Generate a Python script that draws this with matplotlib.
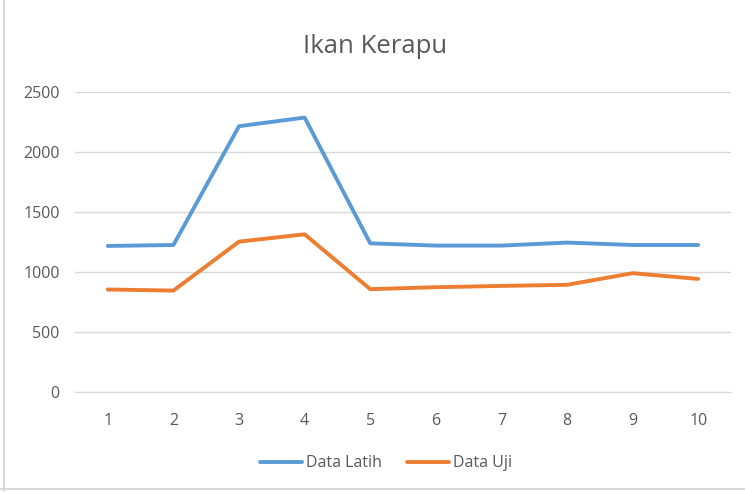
import matplotlib.pyplot as plt
from matplotlib.lines import Line2D

categories = [1, 2, 3, 4, 5, 6, 7, 8, 9, 10]
data_latih = [1217, 1225, 2215, 2287, 1239, 1220, 1220, 1245, 1225, 1225]
data_uji = [854, 845, 1253, 1314, 857, 873, 884, 893, 990, 942]
y_ticks = [0, 500, 1000, 1500, 2000, 2500]

blue = "#5b9bd5"
orange = "#ed7d31"
text_color = "#595959"
grid_color = "#d9d9d9"


def main():
    plt.rcParams["font.family"] = ["Open Sans", "DejaVu Sans"]
    fig = plt.figure(figsize=(7.45, 4.92), dpi=100)
    ax = fig.add_axes([0.1007, 0.2033, 0.8805, 0.6097])

    ax.plot(categories, data_latih, color=blue, linewidth=2.8,
            solid_capstyle="round", label="Data Latih")
    ax.plot(categories, data_uji, color=orange, linewidth=2.8,
            solid_capstyle="round", label="Data Uji")

    ax.set_xlim(0.5, 10.5)
    ax.set_ylim(0, 2500)
    ax.set_yticks(y_ticks)
    ax.set_xticks(categories)
    ax.yaxis.grid(True, color=grid_color, linewidth=1)
    ax.set_axisbelow(True)
    for side in ["top", "right", "left"]:
        ax.spines[side].set_visible(False)
    ax.spines["bottom"].set_color(grid_color)
    ax.tick_params(axis="both", length=0, colors=text_color, labelsize=11.5)
    ax.tick_params(axis="x", pad=15)
    ax.tick_params(axis="y", pad=11)

    fig.text(0.504, 0.905, "Ikan Kerapu", ha="center", va="center",
             fontsize=18.5, color=text_color)

    handles = [Line2D([], [], color=blue, linewidth=2.8, solid_capstyle="round"),
               Line2D([], [], color=orange, linewidth=2.8, solid_capstyle="round")]
    fig.legend(handles, ["Data Latih", "Data Uji"], loc="center",
               bbox_to_anchor=(0.518, 0.058), ncol=2, frameon=False,
               fontsize=11.5, labelcolor=text_color, handlelength=2.6,
               handletextpad=0.25, columnspacing=1.6)

    # chart area border (left and bottom visible in the cropped reference)
    fig.add_artist(Line2D([0.006, 0.006], [0.0, 1.0], transform=fig.transFigure,
                          color=grid_color, linewidth=1.5))
    fig.add_artist(Line2D([0.0, 1.0], [0.006, 0.006], transform=fig.transFigure,
                          color=grid_color, linewidth=1.5))

    fig.savefig("out.png", dpi=100)


if __name__ == "__main__":
    main()
